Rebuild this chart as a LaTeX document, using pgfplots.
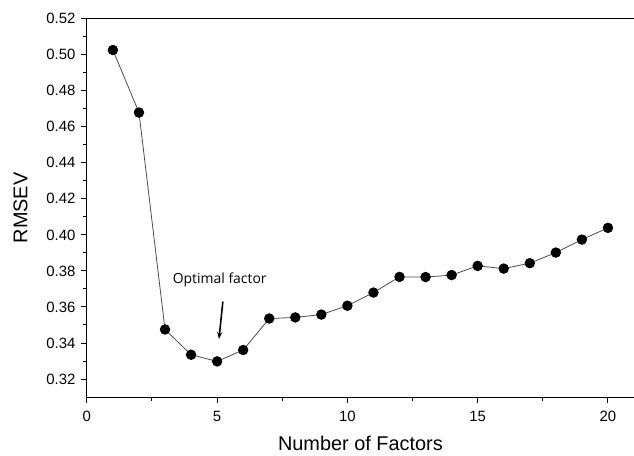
\documentclass[border=0pt]{standalone}
\usepackage{pgfplots}
\pgfplotsset{compat=1.18}
\usepackage{fontspec}
\setmainfont{Liberation Sans}
\newfontfamily\notefont{Open Sans}
\usetikzlibrary{arrows.meta}
\begin{document}
\begin{tikzpicture}
\begin{axis}[
  scale only axis,
  width=548bp, height=379bp,
  xmin=0, xmax=21, ymin=0.31, ymax=0.52,
  axis x line=bottom, axis y line=left,
  axis line style={-, line width=1.1bp, black},
  xtick={0,5,10,15,20}, minor x tick num=1,
  ytick={0.32,0.34,...,0.521}, minor y tick num=1,
  tick align=outside,
  major tick length=6bp, minor tick length=4bp,
  every tick/.style={black, line width=1bp},
  /pgf/number format/assume math mode=true,
  yticklabel style={/pgf/number format/fixed, /pgf/number format/fixed zerofill, /pgf/number format/precision=2, font=\fontsize{15}{17}\selectfont, xshift=-2bp},
  xticklabel style={font=\fontsize{15}{17}\selectfont, yshift=-5bp},
  scaled y ticks=false,
  xlabel={Number of Factors}, ylabel={RMSEV},
  label style={font=\fontsize{20}{22}\selectfont},
  xlabel style={yshift=-7bp},
  ylabel style={yshift=12bp},
  clip=false,
]
\addplot[color=black!70, line width=0.8bp, mark=*, mark size=4.8bp, mark options={fill=black, draw=black}] coordinates {
 (1, 0.5026) (2, 0.4679) (3, 0.3475) (4, 0.3335) (5, 0.3298)
 (6, 0.3361) (7, 0.3536) (8, 0.3542) (9, 0.3558) (10, 0.3607)
 (11, 0.3680) (12, 0.3767) (13, 0.3766) (14, 0.3777) (15, 0.3828)
 (16, 0.3813) (17, 0.3843) (18, 0.3902) (19, 0.3974) (20, 0.4039)
};
\draw[line width=1.1bp, black] (rel axis cs:0,1) -- (rel axis cs:1,1);
\node[font=\notefont\fontsize{14}{16}\selectfont] at (axis cs:5.1,0.375) {Optimal factor};
\draw[line width=1.6bp, -{Stealth[length=7bp,width=5bp]}] (axis cs:5.22,0.363) -- (axis cs:5.07,0.3422);
\coordinate (bl) at (rel axis cs:0,0);
\coordinate (tr) at (rel axis cs:1,1);
\end{axis}
\pgfresetboundingbox
\path ([shift={(-87bp,-58.3bp)}]bl) rectangle ([shift={(0bp,18.7bp)}]tr);
\end{tikzpicture}
\end{document}
